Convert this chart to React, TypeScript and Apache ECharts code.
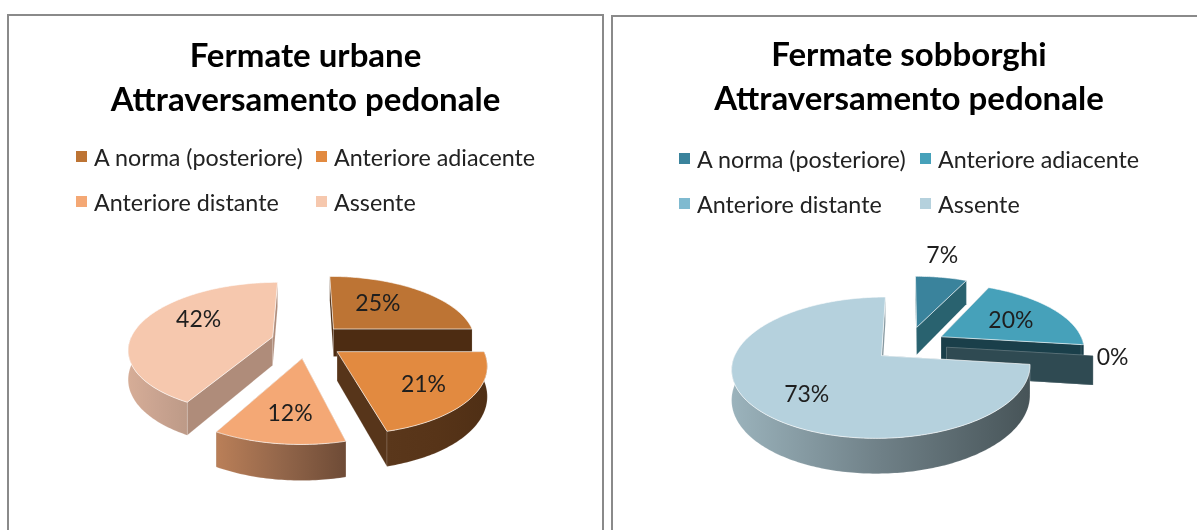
import React, { useEffect, useRef } from "react";
import * as echarts from "echarts";

const categories = ["A norma (posteriore)", "Anteriore adiacente", "Anteriore distante", "Assente"];
const urbanValues = [25, 21, 12, 42];
const suburbValues = [7, 20, 0, 73];
const urbanTitle = "Fermate urbane\nAttraversamento pedonale";
const suburbTitle = "Fermate sobborghi\nAttraversamento pedonale";

type Look = {
  top: string;
  legend: string;
  wall: string;
  outer: [string, string, string];
};

const urbanLooks: Look[] = [
  { top: "#BD7434", legend: "#BD7434", wall: "#4D2C12", outer: ["#4D2C12", "#4D2C12", "#4D2C12"] },
  { top: "#E28A40", legend: "#E28A40", wall: "#57351A", outer: ["#5A371B", "#573418", "#4F2F15"] },
  { top: "#F4A875", legend: "#F4A875", wall: "#8A5D40", outer: ["#BA7F58", "#93664A", "#6E4B36"] },
  { top: "#F6C8AE", legend: "#F6C8AE", wall: "#AF8C7A", outer: ["#D6AD97", "#C9A390", "#BD9A87"] },
];
const suburbLooks: Look[] = [
  { top: "#3A839C", legend: "#3A839C", wall: "#29626F", outer: ["#29626F", "#29626F", "#29626F"] },
  { top: "#46A1BA", legend: "#46A1BA", wall: "#1A3F4A", outer: ["#1A3F4A", "#1A3F4A", "#1A3F4A"] },
  { top: "#7FBAD0", legend: "#7FBAD0", wall: "#2F4A52", outer: ["#2F4A52", "#2F4A52", "#2F4A52"] },
  { top: "#B5D1DD", legend: "#B5D1DD", wall: "#7F929A", outer: ["#9BB3BC", "#6F8087", "#475458"] },
];

type Panel = {
  x: number;
  y: number;
  width: number;
  cx: number;
  cy: number;
  titleTop: number;
  title: string;
  values: number[];
  looks: Look[];
  explode: number[];
  drawOrder: number[];
  labelR: number[];
  labelShift: [number, number][];
  legendX: [number, number];
  legendY: [number, number];
};

const R = 143;
const K = 65;
const D = 6;
const THICK = 28.5;

const panels: Panel[] = [
  {
    x: 9, y: 16, width: 593, cx: 298, cy: 325, titleTop: 11,
    title: urbanTitle, values: urbanValues, looks: urbanLooks,
    explode: [0.27, 0.26, 0.26, 0.25],
    drawOrder: [0, 3, 1, 2],
    labelR: [0.53, 0.73, 0.72, 0.52],
    labelShift: [[-3, -5], [-8, -2], [4, -4], [-5, -11]],
    legendX: [67, 307],
    legendY: [129, 174],
  },
  {
    x: 613, y: 17, width: 592, cx: 295, cy: 328, titleTop: 9,
    title: suburbTitle, values: suburbValues, looks: suburbLooks,
    explode: [0.29, 0.27, 0.27, 0.24],
    drawOrder: [0, 1, 2, 3],
    labelR: [1.5, 0.6, 1.13, 0.6],
    labelShift: [[-9, -3], [1, -1], [0, -1], [-2, 8]],
    legendX: [66, 307],
    legendY: [130, 175],
  },
];

const rad = (d: number) => (d * Math.PI) / 180;

function buildSeries(p: Panel) {
  const total = p.values.reduce((a, b) => a + b, 0);
  let acc = 0;
  const spans = p.values.map((v) => {
    const a0 = (acc / total) * 360;
    acc += v;
    return [a0, (acc / total) * 360];
  });

  const project = (X: number, Y: number, drop = 0): number[] => {
    const s = D / (D - Y);
    return [p.cx + R * X * s, p.cy + K * Y * s + drop * s];
  };

  return p.drawOrder.map((i) => {
    const [a0, a1] = spans[i];
    const look = p.looks[i];
    const mid = rad((a0 + a1) / 2);
    const ex = p.explode[i] * Math.sin(mid);
    const ey = -p.explode[i] * Math.cos(mid);
    const pt = (deg: number, r: number, drop = 0) =>
      project(ex + r * Math.sin(rad(deg)), ey - r * Math.cos(rad(deg)), drop);
    const arc = (from: number, to: number, drop = 0) => {
      const out: number[][] = [];
      const n = Math.max(1, Math.ceil(Math.abs(to - from)));
      for (let k = 0; k <= n; k++) out.push(pt(from + ((to - from) * k) / n, 1, drop));
      return out;
    };
    const radialWall = (deg: number) => ({
      type: "polygon",
      shape: { points: [pt(deg, 0), pt(deg, 1), pt(deg, 1, THICK), pt(deg, 0, THICK)] },
      style: { fill: look.wall, stroke: "rgba(255,255,255,0.25)", lineWidth: 0.6 },
    });

    const renderItem = () => {
      const children: any[] = [radialWall(a0), radialWall(a1)];
      const f0 = Math.max(a0, 90);
      const f1 = Math.min(a1, 270);
      if (f1 > f0) {
        children.push({
          type: "polygon",
          shape: { points: [...arc(f0, f1), ...arc(f1, f0, THICK)] },
          style: {
            fill: new echarts.graphic.LinearGradient(0, 0, 1, 0, [
              { offset: 0, color: look.outer[0] },
              { offset: 0.5, color: look.outer[1] },
              { offset: 1, color: look.outer[2] },
            ]),
            stroke: "rgba(255,255,255,0.25)",
            lineWidth: 0.6,
          },
        });
      }
      if (a1 > a0) {
        children.push({
          type: "polygon",
          shape: { points: [pt(a0, 0), ...arc(a0, a1)] },
          style: { fill: look.top, stroke: "rgba(255,255,255,0.6)", lineWidth: 1 },
        });
      }
      const [lx, ly] = pt((a0 + a1) / 2, p.labelR[i]);
      children.push({
        type: "text",
        z2: 100,
        style: {
          x: lx + p.labelShift[i][0],
          y: ly + p.labelShift[i][1],
          text: `${p.values[i]}%`,
          fill: "#1E1E1E",
          font: "23px Lato",
          align: "center",
          verticalAlign: "middle",
        },
      });
      return { type: "group", children };
    };

    return {
      type: "custom",
      name: categories[i],
      coordinateSystem: "none",
      silent: true,
      itemStyle: { color: look.legend },
      data: [[p.values[i]]],
      renderItem,
    };
  });
}

function buildOption(p: Panel) {
  return {
    animation: false,
    title: {
      text: p.title,
      left: "center",
      top: p.titleTop,
      textStyle: {
        fontFamily: "Lato",
        fontWeight: "bold",
        fontSize: 33,
        lineHeight: 44,
        color: "#000",
      },
    },
    legend: categories.map((name, i) => ({
      data: [name],
      left: p.legendX[i % 2],
      top: p.legendY[i < 2 ? 0 : 1],
      padding: 0,
      icon: "rect",
      itemWidth: 11,
      itemHeight: 11,
      itemGap: 0,
      selectedMode: false,
      textStyle: { fontFamily: "Lato", fontSize: 23.3, color: "#222", padding: [0, 0, 0, 2] },
    })),
    series: buildSeries(p),
  };
}

function PanelChart({ panel, style }: { panel: Panel; style: React.CSSProperties }) {
  const ref = useRef<HTMLDivElement>(null);
  useEffect(() => {
    const chart = echarts.init(ref.current!, undefined, { renderer: "svg" });
    chart.setOption(buildOption(panel) as any);
    return () => chart.dispose();
  }, [panel]);
  return (
    <div
      style={{
        position: "absolute",
        boxSizing: "content-box",
        border: "2px solid #8A8A8A",
        background: "#fff",
        ...style,
      }}
    >
      <div ref={ref} style={{ width: "100%", height: "100%" }} />
    </div>
  );
}

export default function App() {
  useEffect(() => {
    document.documentElement.style.overflow = "hidden";
    document.body.style.margin = "0";
  }, []);
  return (
    <div
      style={{
        position: "fixed", left: 0, top: 0, width: 1197, height: 530,
        overflow: "hidden", background: "#fff", filter: "blur(0.4px)",
      }}
    >
      {panels.map((p) => (
        <PanelChart
          key={p.title}
          panel={p}
          style={{ left: p.x - 2, top: p.y - 2, width: p.width, height: 540 }}
        />
      ))}
    </div>
  );
}
